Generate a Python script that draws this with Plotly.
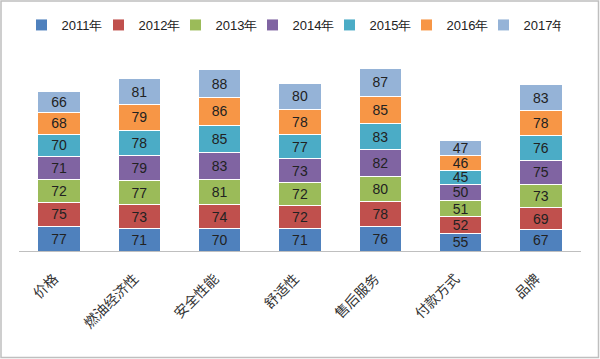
import plotly.graph_objects as go

categories = ["价格", "燃油经济性", "安全性能", "舒适性", "售后服务", "付款方式", "品牌"]
series_names = ["2011年", "2012年", "2013年", "2014年", "2015年", "2016年", "2017年"]
v2011 = [77, 71, 70, 71, 76, 55, 67]
v2012 = [75, 73, 74, 72, 78, 52, 69]
v2013 = [72, 77, 81, 72, 80, 51, 73]
v2014 = [71, 79, 83, 73, 82, 50, 75]
v2015 = [70, 78, 85, 77, 83, 45, 76]
v2016 = [68, 79, 86, 78, 85, 46, 78]
v2017 = [66, 81, 88, 80, 87, 47, 83]
series_values = [v2011, v2012, v2013, v2014, v2015, v2016, v2017]
colors = ["#4F81BD", "#C0504D", "#9BBB59", "#8064A2", "#4BACC6", "#F79646", "#95B3D7"]

fig = go.Figure()
for name, vals, c in zip(series_names, series_values, colors):
    fig.add_trace(go.Bar(
        x=categories, y=vals, name=name,
        marker=dict(color=c, line=dict(color="white", width=1)),
        text=vals, textposition="inside", insidetextanchor="middle",
        textfont=dict(color="#222222", size=14, family="Liberation Sans Narrow, Liberation Sans, Arial"),
        textangle=0, constraintext="none",
    ))

fig.update_layout(
    barmode="stack",
    width=600, height=359,
    margin=dict(l=19, r=19, t=59, b=108, autoexpand=False),
    paper_bgcolor="white", plot_bgcolor="white",
    bargap=0.47,
    showlegend=True,
    legend=dict(orientation="h", x=0.485, xanchor="center", xref="container",
                y=1 - 25 / 359, yanchor="middle", yref="container",
                bgcolor="rgba(0,0,0,0)",
                font=dict(size=13, color="#222222", family="Liberation Sans, Arial"),
                traceorder="normal", itemwidth=30, entrywidth=32, entrywidthmode="pixels"),
    uniformtext=dict(minsize=14, mode="show"),
)
fig.update_xaxes(showline=True, linecolor="#BFBFBF", linewidth=1, ticks="",
                 tickangle=-45, tickfont=dict(size=14, color="#333333", family="Noto Sans CJK SC"),
                 ticklabelstandoff=13, ticklabelshift=-5,
                 showgrid=False, automargin=False)
fig.update_yaxes(visible=False, range=[0, 600], showgrid=False, automargin=False)
fig.add_shape(type="rect", xref="paper", yref="paper",
              x0=(1 - 19) / 562, x1=(598.5 - 19) / 562, y0=(251 - 357.5) / 192, y1=(251 - 1) / 192,
              line=dict(color="#BFBFBF", width=1.5), fillcolor="rgba(0,0,0,0)", layer="below")

fig.write_html("out.html", config={"displayModeBar": False},
               post_script="document.body.style.margin='0';")
